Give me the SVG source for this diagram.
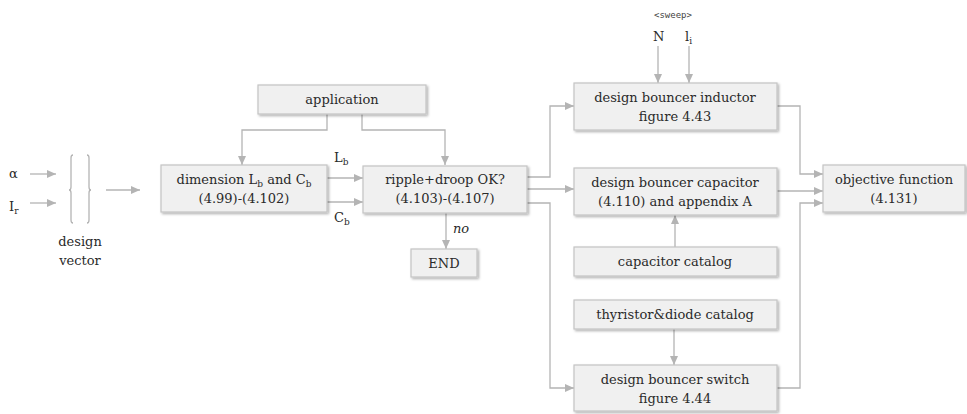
<svg xmlns="http://www.w3.org/2000/svg" width="967" height="414" viewBox="0 0 967 414">
  <defs>
    <marker id="arr" markerUnits="userSpaceOnUse" markerWidth="10" markerHeight="8" refX="9" refY="4" orient="auto">
      <path d="M0,0 L9,4 L0,8 Z" fill="#b4b4b4"/>
    </marker>
    <filter id="sh" x="-10%" y="-20%" width="125%" height="150%">
      <feDropShadow dx="1.5" dy="1.5" stdDeviation="1.2" flood-color="#000" flood-opacity="0.3"/>
    </filter>
  </defs>
  <style>
    .box { fill: #f0f0f0; stroke: #c4c4c4; stroke-width: 1.2; filter: url(#sh); }
    .t { font-family: "DejaVu Serif", "Liberation Serif", serif; font-size: 13px; fill: #2a2a2a; text-anchor: middle; }
    .lbl { font-family: "DejaVu Serif", "Liberation Serif", serif; font-size: 13px; fill: #2a2a2a; }
    .sub { font-size: 9px; }
    .c { fill: none; stroke: #b4b4b4; stroke-width: 1.3; }
    .ca { fill: none; stroke: #b4b4b4; stroke-width: 1.3; marker-end: url(#arr); }
  </style>
  <rect width="967" height="414" fill="#fff"/>

  <!-- connectors -->
  <g id="connectors">
    <!-- design vector inputs -->
    <line class="ca" x1="30" y1="174" x2="56" y2="174"/>
    <line class="ca" x1="30" y1="203" x2="56" y2="203"/>
    <line class="ca" x1="106" y1="190" x2="140" y2="190"/>
    <!-- application to dimension / ripple -->
    <polyline class="ca" points="327,114 327,130 242,130 242,165"/>
    <polyline class="ca" points="362,114 362,130 445,130 445,165"/>
    <!-- Lb, Cb -->
    <line class="ca" x1="327" y1="178" x2="363" y2="178"/>
    <line class="ca" x1="327" y1="202" x2="363" y2="202"/>
    <!-- ripple to END -->
    <line class="ca" x1="446" y1="213" x2="446" y2="249"/>
    <!-- ripple to design blocks -->
    <polyline class="ca" points="527,177 550,177 550,106 574,106"/>
    <line class="ca" x1="527" y1="189" x2="574" y2="189"/>
    <polyline class="ca" points="527,203 550,203 550,388 574,388"/>
    <!-- sweep inputs -->
    <line class="ca" x1="658" y1="46" x2="658" y2="83"/>
    <line class="ca" x1="689" y1="46" x2="689" y2="83"/>
    <!-- catalogs -->
    <line class="ca" x1="675" y1="247" x2="675" y2="215"/>
    <line class="ca" x1="674" y1="329" x2="674" y2="365"/>
    <!-- to objective function -->
    <polyline class="ca" points="777,106 800,106 800,174 823,174"/>
    <line class="ca" x1="777" y1="191" x2="823" y2="191"/>
    <polyline class="ca" points="777,388 800,388 800,203 823,203"/>
  </g>

  <!-- design vector -->
  <g id="design-vector">
    <text class="lbl" x="9" y="178">α</text>
    <text class="lbl" x="9" y="211">I<tspan class="sub" dy="3">r</tspan></text>
    <path class="c" d="M73,155 Q71,155 71,158 L71,187 Q71,190 69,190 Q71,190 71,193 L71,220 Q71,223 73,223" stroke-width="1"/>
    <path class="c" d="M87,155 Q89,155 89,158 L89,187 Q89,190 91,190 Q89,190 89,193 L89,220 Q89,223 87,223" stroke-width="1"/>
    <text class="t" x="80" y="246">design</text>
    <text class="t" x="80" y="265">vector</text>
  </g>

  <g id="application">
    <rect class="box" x="258" y="85" width="168" height="29"/>
    <text class="t" x="342" y="104">application</text>
  </g>

  <g id="dimension">
    <rect class="box" x="161" y="165" width="166" height="47"/>
    <text class="t" x="244" y="184">dimension L<tspan class="sub" dy="3">b</tspan><tspan dy="-3"> and C</tspan><tspan class="sub" dy="3">b</tspan></text>
    <text class="t" x="244" y="203">(4.99)-(4.102)</text>
  </g>
  <text class="lbl" x="334" y="162">L<tspan class="sub" dy="3">b</tspan></text>
  <text class="lbl" x="334" y="222">C<tspan class="sub" dy="3">b</tspan></text>

  <g id="ripple">
    <rect class="box" x="363" y="166" width="164" height="47"/>
    <text class="t" x="445" y="184">ripple+droop OK?</text>
    <text class="t" x="445" y="203">(4.103)-(4.107)</text>
  </g>
  <text class="lbl" x="453" y="233" font-style="italic" font-size="11">no</text>

  <g id="end">
    <rect class="box" x="411" y="249" width="66" height="28"/>
    <text class="t" x="444" y="268">END</text>
  </g>

  <!-- sweep parameters -->
  <text x="673" y="18" font-family="'DejaVu Sans Mono', monospace" font-size="9" fill="#444" text-anchor="middle">&lt;sweep&gt;</text>
  <text class="lbl" x="653" y="41">N</text>
  <text class="lbl" x="685" y="41">l<tspan class="sub" dy="3">i</tspan></text>

  <g id="inductor">
    <rect class="box" x="574" y="83" width="203" height="47"/>
    <text class="t" x="675" y="102">design bouncer inductor</text>
    <text class="t" x="675" y="121">figure 4.43</text>
  </g>

  <g id="capacitor">
    <rect class="box" x="574" y="168" width="203" height="47"/>
    <text class="t" x="675" y="187">design bouncer capacitor</text>
    <text class="t" x="675" y="206">(4.110) and appendix A</text>
  </g>

  <g id="capacitor-catalog">
    <rect class="box" x="574" y="247" width="203" height="29"/>
    <text class="t" x="675" y="266">capacitor catalog</text>
  </g>

  <g id="thyristor-catalog">
    <rect class="box" x="574" y="300" width="203" height="29"/>
    <text class="t" x="675" y="319">thyristor&amp;diode catalog</text>
  </g>

  <g id="switch">
    <rect class="box" x="574" y="365" width="203" height="46"/>
    <text class="t" x="675" y="384">design bouncer switch</text>
    <text class="t" x="675" y="403">figure 4.44</text>
  </g>

  <g id="objective">
    <rect class="box" x="823" y="165" width="142" height="47"/>
    <text class="t" x="894" y="184">objective function</text>
    <text class="t" x="894" y="203">(4.131)</text>
  </g>
</svg>
